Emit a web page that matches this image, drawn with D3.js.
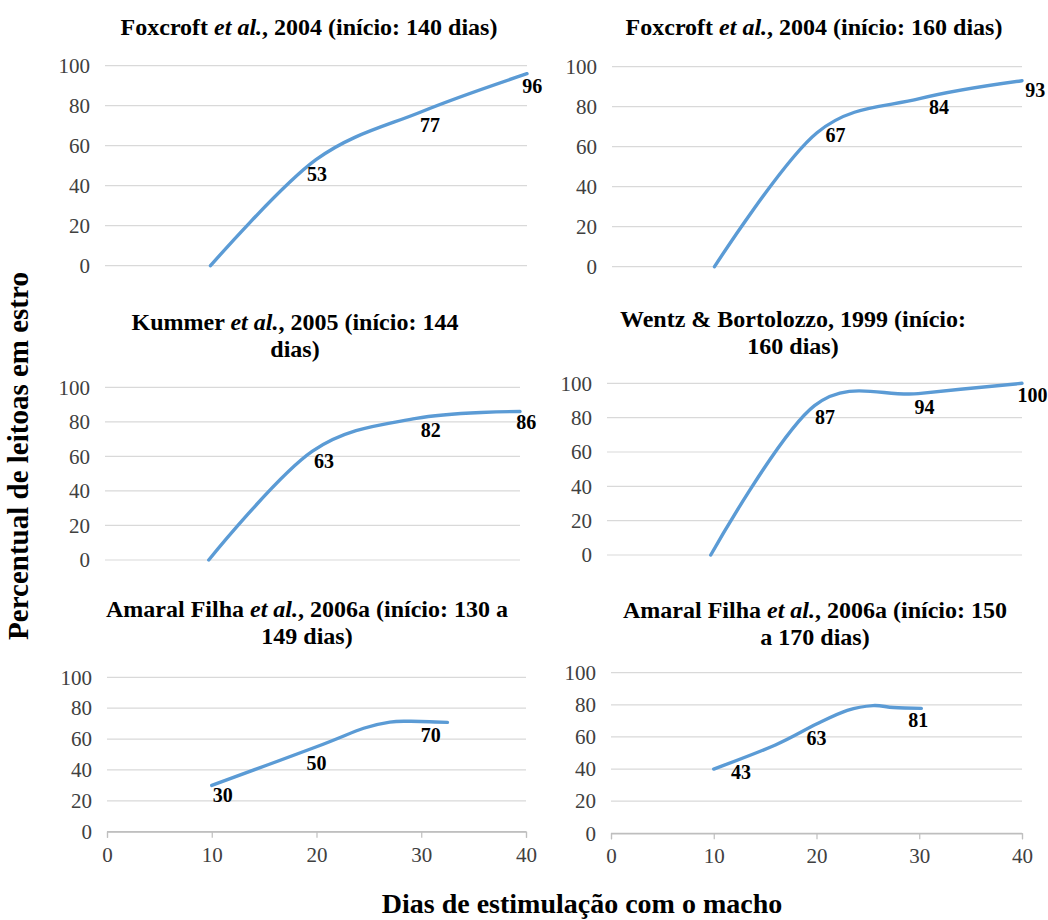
<!DOCTYPE html>
<html><head><meta charset="utf-8">
<script src="https://cdn.jsdelivr.net/npm/d3@7"></script>
<style>
body{margin:0;background:#fff}
text{font-family:"Liberation Serif","Times New Roman",serif}
</style>
</head><body>
<svg id="chart" width="1048" height="920"></svg>
<script>
// ---------- data ----------
const panelTitles = [
  ["Foxcroft *et al.*, 2004 (início: 140 dias)"],
  ["Foxcroft *et al.*, 2004 (início: 160 dias)"],
  ["Kummer *et al.*, 2005 (início: 144", "dias)"],
  ["Wentz & Bortolozzo, 1999 (início:", "160 dias)"],
  ["Amaral Filha *et al.*, 2006a (início: 130 a", "149 dias)"],
  ["Amaral Filha *et al.*, 2006a (início: 150", "a 170 dias)"]
];
const yTickValues = [0, 20, 40, 60, 80, 100];
const xTickValues = [0, 10, 20, 30, 40];
const yAxisTitle = "Percentual de leitoas em estro";
const xAxisTitle = "Dias de estimulação com o macho";

// line points (day, % in estrus)
const days1 = [10, 20, 30, 40],            pct1 = [0, 53, 77, 96];
const days2 = [10, 20, 30, 40],            pct2 = [0, 67, 84, 93];
const days3 = [10, 20, 30, 40],            pct3 = [0, 63, 82, 86];
const days4 = [10, 20, 30, 40],            pct4 = [0, 87, 94, 100];
const days5 = [10, 20, 24.5, 27, 29, 32.5], pct5 = [30, 55, 67, 71, 71.5, 70.8];
const days6 = [10, 16, 20, 23, 25.5, 27.5, 30.2], pct6 = [40, 55, 68, 76.5, 79.5, 78.3, 77.8];

// data labels: text and where they sit (in data units)
const labText1 = ["53", "77", "96"],  labDay1 = [20.1, 30.8, 40.5], labPct1 = [46, 70.6, 90];
const labText2 = ["67", "84", "93"],  labDay2 = [21.8, 31.9, 41.3], labPct2 = [65.8, 80, 88.3];
const labText3 = ["63", "82", "86"],  labDay3 = [21.1, 31.4, 40.6], labPct3 = [57.3, 75.3, 80];
const labText4 = ["87", "94", "100"], labDay4 = [21, 30.6, 41],     labPct4 = [80.5, 86, 93.2];
const labText5 = ["30", "50", "70"],  labDay5 = [11.05, 20, 30.9],  labPct5 = [23.8, 44.3, 62.6];
const labText6 = ["43", "63", "81"],  labDay6 = [12.65, 20, 29.9],  labPct6 = [38.4, 59.2, 70.5];

const series = [
  {days: days1, pct: pct1, lt: labText1, ld: labDay1, lp: labPct1},
  {days: days2, pct: pct2, lt: labText2, ld: labDay2, lp: labPct2},
  {days: days3, pct: pct3, lt: labText3, ld: labDay3, lp: labPct3},
  {days: days4, pct: pct4, lt: labText4, ld: labDay4, lp: labPct4},
  {days: days5, pct: pct5, lt: labText5, ld: labDay5, lp: labPct5},
  {days: days6, pct: pct6, lt: labText6, ld: labDay6, lp: labPct6}
];

// ---------- layout ----------
const frames = [
  {x0: 105, x1: 527,  yTop: 65.7,  yBot: 265.7, tx: 309, ty: 35,    xAxis: false},
  {x0: 612, x1: 1022, yTop: 66.7,  yBot: 266.7, tx: 814, ty: 35,    xAxis: false},
  {x0: 105, x1: 520,  yTop: 387.3, yBot: 560,   tx: 295, ty: 330,   xAxis: false},
  {x0: 607, x1: 1022, yTop: 383.3, yBot: 555,   tx: 793, ty: 326.7, xAxis: false},
  {x0: 107, x1: 526,  yTop: 677.3, yBot: 831.7, tx: 307, ty: 616.7, xAxis: true},
  {x0: 611, x1: 1022, yTop: 672.7, yBot: 833.3, tx: 815, ty: 618,   xAxis: true}
];

const svg = d3.select("#chart");
const lineColor = "#5b9bd5";

frames.forEach((f, i) => {
  const s = series[i];
  const x = d3.scaleLinear().domain([0, 40]).range([f.x0, f.x1]);
  const y = d3.scaleLinear().domain([0, 100]).range([f.yBot, f.yTop]);
  const g = svg.append("g");

  // title
  const tt = g.append("text").attr("text-anchor", "middle")
    .attr("font-size", 24).attr("font-weight", "bold").attr("fill", "#000");
  panelTitles[i].forEach((line, li) => {
    const parts = line.split("*");
    parts.forEach((p, pi) => {
      const ts = tt.append("tspan").text(p);
      if (pi === 0) ts.attr("x", f.tx).attr("y", f.ty + li * 27);
      if (pi % 2 === 1) ts.attr("font-style", "italic");
    });
  });

  // gridlines
  g.append("g").selectAll("line").data(yTickValues).join("line")
    .attr("x1", f.x0).attr("x2", f.x1)
    .attr("y1", d => y(d)).attr("y2", d => y(d))
    .attr("stroke", (d) => (d === 0 && f.xAxis) ? "#bfbfbf" : "#d9d9d9")
    .attr("stroke-width", 1.2);

  // y axis labels
  const yAx = d3.axisLeft(y).tickValues(yTickValues).tickSize(0).tickPadding(15);
  const ya = g.append("g").attr("transform", `translate(${f.x0},0)`).call(yAx);
  ya.select(".domain").remove();
  ya.selectAll("text").attr("font-size", 21).attr("fill", "#404040");

  // x axis (bottom panels only)
  if (f.xAxis) {
    const xAx = d3.axisBottom(x).tickValues(xTickValues).tickSize(6).tickPadding(9);
    const xa = g.append("g").attr("transform", `translate(0,${f.yBot})`).call(xAx);
    xa.select(".domain").attr("stroke", "#bfbfbf").attr("stroke-width", 1.2);
    xa.selectAll(".tick line").attr("stroke", "#bfbfbf").attr("stroke-width", 1.2);
    xa.selectAll("text").attr("font-size", 21).attr("fill", "#404040");
  }

  // line
  const pts = s.days.map((d, k) => [d, s.pct[k]]);
  const line = d3.line().x(d => x(d[0])).y(d => y(d[1])).curve(d3.curveCardinal.tension(0));
  g.append("path").attr("d", line(pts)).attr("fill", "none")
    .attr("stroke", lineColor).attr("stroke-width", 3.4)
    .attr("stroke-linejoin", "round").attr("stroke-linecap", "round");

  // data labels
  g.append("g").selectAll("text").data(s.lt).join("text")
    .attr("x", (d, k) => x(s.ld[k])).attr("y", (d, k) => y(s.lp[k]))
    .attr("text-anchor", "middle").attr("dominant-baseline", "central")
    .attr("font-size", 20).attr("font-weight", "bold").attr("fill", "#000")
    .text(d => d);
});

// axis titles
svg.append("text").attr("transform", "translate(28,456) rotate(-90)")
  .attr("text-anchor", "middle").attr("font-size", 29).attr("font-weight", "bold")
  .text(yAxisTitle);
svg.append("text").attr("x", 582).attr("y", 913)
  .attr("text-anchor", "middle").attr("font-size", 28).attr("font-weight", "bold")
  .text(xAxisTitle);
</script>
</body></html>
